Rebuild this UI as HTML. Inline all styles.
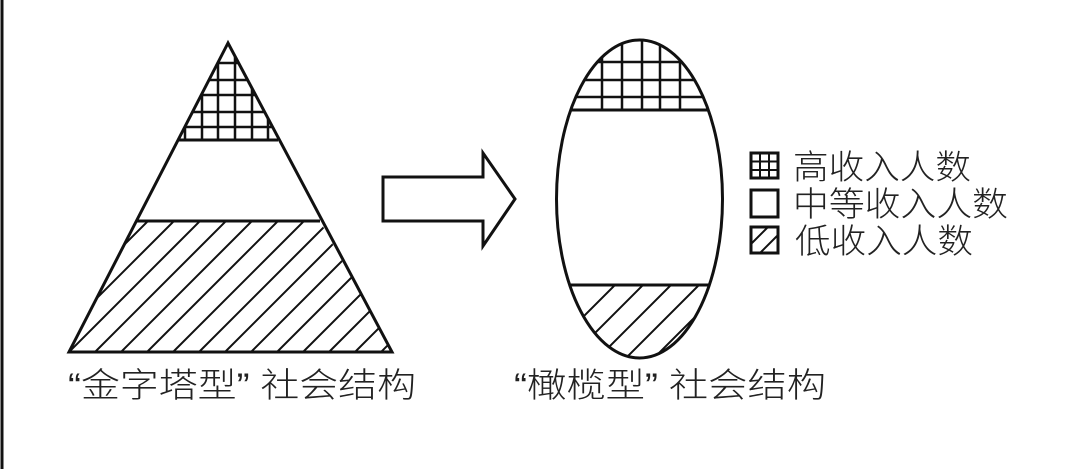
<!DOCTYPE html>
<html><head><meta charset="utf-8"><style>
html,body{margin:0;padding:0;background:#fff;}
svg{display:block}
text{font-family:"Liberation Sans","Noto Sans CJK SC",sans-serif;fill:#222;font-weight:300;}
</style></head><body>
<svg width="1068" height="469" viewBox="0 0 1068 469" xmlns="http://www.w3.org/2000/svg">
<defs>
<clipPath id="triTop"><polygon points="228,43 178,140 278,140"/></clipPath>
<clipPath id="triBot"><polygon points="137,221 320,221 392,352 69,352"/></clipPath>
<clipPath id="elTop"><rect x="530" y="30" width="220" height="80"/></clipPath>
<clipPath id="elBot"><rect x="530" y="285" width="220" height="80"/></clipPath>
<clipPath id="el"><ellipse cx="639.5" cy="199" rx="83" ry="159"/></clipPath>
</defs>
<line x1="2" y1="0" x2="2" y2="469" stroke="#111" stroke-width="3"/>
<g clip-path="url(#triTop)" stroke="#111" stroke-width="2.5">
<line x1="185" y1="40" x2="185" y2="140"/><line x1="202" y1="40" x2="202" y2="140"/><line x1="218" y1="40" x2="218" y2="140"/><line x1="235" y1="40" x2="235" y2="140"/><line x1="252" y1="40" x2="252" y2="140"/><line x1="268" y1="40" x2="268" y2="140"/>
<line x1="170" y1="63" x2="290" y2="63"/><line x1="170" y1="80" x2="290" y2="80"/><line x1="170" y1="95" x2="290" y2="95"/><line x1="170" y1="112" x2="290" y2="112"/><line x1="170" y1="127" x2="290" y2="127"/>
</g>
<g clip-path="url(#triBot)" stroke="#111" stroke-width="2">
<path d="M69,352 l150,-150 M95,352 l150,-150 M121,352 l150,-150 M147,352 l150,-150 M173,352 l150,-150 M199,352 l150,-150 M225,352 l150,-150 M251,352 l150,-150 M277,352 l150,-150 M303,352 l150,-150 M329,352 l150,-150 M355,352 l150,-150 M381,352 l150,-150 M43,352 l150,-150 M17,352 l150,-150"/>
</g>
<polygon points="228,43 69,352 392,352" fill="none" stroke="#111" stroke-width="3"/>
<line x1="178" y1="140" x2="278" y2="140" stroke="#111" stroke-width="3"/>
<line x1="137" y1="221" x2="320" y2="221" stroke="#111" stroke-width="3"/>
<polygon points="383,177 483,177 483,153 515,199 483,246 483,221 383,221" fill="none" stroke="#111" stroke-width="3"/>
<g clip-path="url(#el)">
<g clip-path="url(#elTop)" stroke="#111" stroke-width="2.5">
<line x1="602" y1="30" x2="602" y2="110"/><line x1="622" y1="30" x2="622" y2="110"/><line x1="642" y1="30" x2="642" y2="110"/><line x1="660" y1="30" x2="660" y2="110"/><line x1="680" y1="30" x2="680" y2="110"/>
<line x1="530" y1="62" x2="750" y2="62"/><line x1="530" y1="80" x2="750" y2="80"/><line x1="530" y1="97" x2="750" y2="97"/>
</g>
<g clip-path="url(#elBot)" stroke="#111" stroke-width="2">
<path d="M520,380 l110,-110 M548,380 l110,-110 M576,380 l110,-110 M604,380 l110,-110 M632,380 l110,-110 M660,380 l110,-110 M688,380 l110,-110 M716,380 l110,-110"/>
</g>
<line x1="530" y1="110" x2="750" y2="110" stroke="#111" stroke-width="3"/>
<line x1="530" y1="285" x2="750" y2="285" stroke="#111" stroke-width="3"/>
</g>
<ellipse cx="639.5" cy="199" rx="83" ry="159" fill="none" stroke="#111" stroke-width="3"/>
<rect x="751" y="153" width="27" height="25" fill="none" stroke="#111" stroke-width="3"/>
<path d="M760,153 v25 M769,153 v25 M751,161.5 h27 M751,170 h27" stroke="#111" stroke-width="2"/>
<rect x="751" y="190" width="27" height="27" fill="none" stroke="#111" stroke-width="3"/>
<rect x="751" y="227" width="27" height="26" fill="none" stroke="#111" stroke-width="3"/>
<path d="M751,244 l17,-17 M760,253 l18,-18" stroke="#111" stroke-width="2"/>
<text x="793" y="179" font-size="34" textLength="178" lengthAdjust="spacingAndGlyphs">高收入人数</text>
<text x="793" y="216" font-size="34" textLength="215" lengthAdjust="spacingAndGlyphs">中等收入人数</text>
<text x="795" y="253" font-size="34" textLength="178" lengthAdjust="spacingAndGlyphs">低收入人数</text>
<text x="68" y="397" font-size="34" textLength="348" lengthAdjust="spacingAndGlyphs">“金字塔型” 社会结构</text>
<text x="514" y="397" font-size="34" textLength="312" lengthAdjust="spacingAndGlyphs">“橄榄型” 社会结构</text>
</svg>
</body></html>
